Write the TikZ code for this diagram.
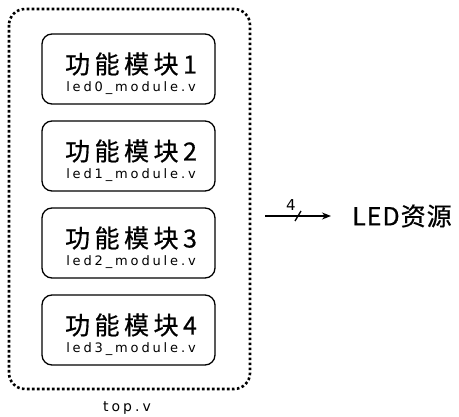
\documentclass[tikz,border=0pt]{standalone}
\usepackage{fontspec}
\setmainfont{Noto Sans CJK SC}
\newfontfamily\cjkf[FakeBold=0.6,LetterSpace=18]{Noto Sans CJK SC}
\newfontfamily\cjkg[FakeBold=0.6,LetterSpace=4]{Noto Sans CJK SC}
\newfontfamily\latf[LetterSpace=22]{DejaVu Sans}
\usetikzlibrary{arrows.meta}
\begin{document}
\begin{tikzpicture}[x=1pt,y=-1pt,
  modbox/.style={draw, line width=1.3pt, rounded corners=10pt, minimum width=173pt, minimum height=70pt, inner sep=0pt},
  topbox/.style={draw, line width=2.6pt, rounded corners=16pt, dash pattern=on 2.6pt off 2.4pt},
  title/.style={font=\cjkf\fontsize{25}{25}\selectfont, inner sep=0pt},
  fname/.style={font=\latf\fontsize{13}{13}\selectfont, inner sep=0pt}]
\useasboundingbox (0,0) rectangle (459,417);
\draw[topbox] (9,9) rectangle (250,389);
\foreach \i/\n/\f in {0/1/0,1/2/1,2/3/2,3/4/3}{
  \node[modbox] (m\n) at (128.5,{69+87*\i}) {};
  \node[title] (t\n) at (131,{64+87*\i}) {功能模块\n};
  \node[fname] (f\n) at (131,{88+87*\i}) {led\f\_module.v};
}
\node[fname, font=\latf\fontsize{14}{14}\selectfont] (top) at (127,408) {top.v};
\coordinate (a1) at (265,216);
\node[font=\cjkg\fontsize{25}{25}\selectfont, inner sep=0pt, anchor=west] (led) at (352,216) {LED资源};
\draw[line width=1.4pt, -{Stealth[length=9pt,width=7pt]}] (a1) -- (led.west -| 331,216);
\draw[line width=1.3pt] (295,221) -- (301,211);
\node[font=\latf\fontsize{15}{15}\selectfont, inner sep=0pt] (four) at (291,205) {4};
\end{tikzpicture}
\end{document}
